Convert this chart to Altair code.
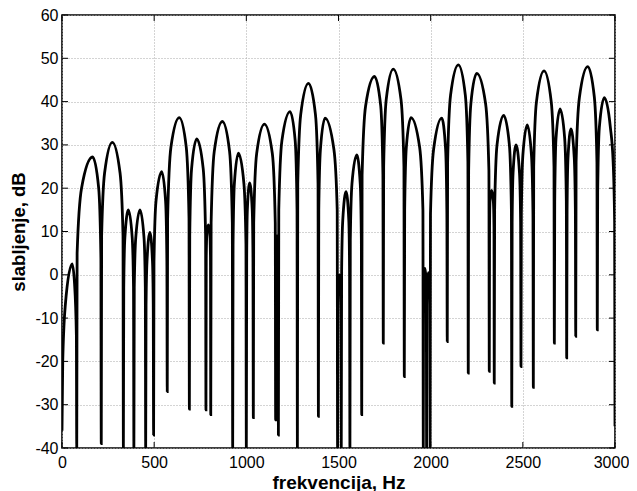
import altair as alt
import pandas as pd

# Attenuation curve (Hz, dB), lobe by lobe
freq_hz = [
    0, 4, 18, 55, 68, 78, 80,
    82, 106, 166, 199, 211, 213,
    215, 231, 273, 315, 331, 333,
    335, 341, 360, 381, 388, 390,
    392, 400, 423, 445, 452, 454,
    456, 461, 477, 491, 495, 497,
    499, 510, 541, 562, 569, 571,
    573, 591, 636, 674, 689, 691,
    693, 703, 731, 766, 779, 781,
    782.5, 786, 794, 802, 805.5, 807,
    809, 826, 870, 909, 924, 926,
    928, 935, 957, 987, 998, 1000,
    1002, 1005.5, 1018, 1032, 1036, 1038,
    1040, 1056, 1098, 1141, 1157, 1159,
    1160, 1162, 1166.5, 1171, 1173, 1174,
    1176, 1193, 1237, 1265, 1275, 1277,
    1279, 1295, 1337, 1375, 1389, 1391,
    1393, 1402, 1427, 1475, 1493, 1495,
    1496.5, 1499, 1505, 1511, 1513.5, 1515,
    1517, 1523, 1541, 1556, 1560, 1562,
    1564, 1573, 1599, 1618, 1624, 1626,
    1628, 1647, 1695, 1729, 1741, 1743,
    1745, 1759, 1797, 1839, 1855, 1857,
    1859, 1868, 1893, 1940, 1958, 1960,
    1961.5, 1964, 1969, 1974, 1976.5, 1978,
    1979.5, 1982, 1988, 1993, 1995.5, 1997,
    1999, 2016, 2060, 2081, 2088, 2090,
    2092, 2108, 2150, 2188, 2202, 2204,
    2206, 2218, 2250, 2298, 2316, 2318,
    2319.5, 2322, 2331, 2340, 2343.5, 2345,
    2347, 2360, 2396, 2427, 2438, 2440,
    2442, 2447, 2463, 2482, 2488, 2490,
    2492, 2500, 2524, 2547, 2555, 2557,
    2559, 2574, 2615, 2654, 2669, 2671,
    2673, 2680, 2702, 2727, 2736, 2738,
    2740, 2745, 2761, 2779, 2785, 2787,
    2789, 2807, 2852, 2888, 2902, 2904,
    2906, 2915, 2942, 2975, 2990, 2998, 3000,
]
level_db = [
    -36, -20, -7, 2.5, -2, -14, -40,
    5, 20, 27.2, 20, 4, -39,
    9, 23.5, 30.6, 23.5, 9, -40,
    -3, 8.5, 15, 8.5, -3, -40,
    -3, 8.5, 15, 8.5, -3, -40,
    -7, 3, 9.8, 3, -7, -37,
    3, 17, 23.8, 17, 3, -27,
    13, 29.5, 36.3, 29.5, 13, -31,
    9, 24.5, 31.4, 24.5, 9, -31.2,
    4, 9.5, 11.5, 9.5, 4, -32.3,
    12, 28.5, 35.4, 28.5, 12, -40,
    7, 21, 28.1, 21, 7, -40,
    4, 15, 21.2, 15, 4, -33,
    12, 28, 34.8, 28, 12, -33.5,
    2, 7, 9, 7, 2, -37,
    15, 31, 37.7, 31, 15, -40,
    21, 37, 44.2, 37, 21, -32.7,
    15, 29, 36.2, 29, 15, -40,
    -8, -2, 0, -2, -8, -40,
    1, 12.5, 19.2, 12.5, 1, -40,
    8, 21, 27.7, 21, 8, -32.3,
    23, 39, 45.8, 39, 23, -15.8,
    25, 40.5, 47.5, 40.5, 25, -23.5,
    15, 29.5, 36.3, 29.5, 15, -40,
    -6, -0.5, 1.5, -0.5, -6, -40,
    -7, -1.5, 0.5, -1.5, -7, -40,
    14, 29, 36.2, 29, 14, -15.4,
    26, 41.5, 48.5, 41.5, 26, -22.7,
    24, 39.5, 46.5, 39.5, 24, -22.3,
    11, 17, 19.5, 17, 11, -25,
    15, 30, 36.8, 30, 15, -30.4,
    12, 23.5, 30, 23.5, 12, -21.2,
    14, 27.5, 34.6, 27.5, 14, -26,
    25, 40, 47.1, 40, 25, -15.8,
    17, 31.5, 38.3, 31.5, 17, -19.2,
    15, 27, 33.7, 27, 15, -14.2,
    26, 41, 48.1, 41, 26, -12.7,
    19, 34, 40.9, 34, 26, 12, -35,
]

x_ticks = [0, 500, 1000, 1500, 2000, 2500, 3000]
y_ticks = [-40, -30, -20, -10, 0, 10, 20, 30, 40, 50, 60]

x_title = "frekvencija, Hz"
y_title = "slabljenje, dB"

W, H = 553, 433
FONT = "Liberation Sans"

curve = pd.DataFrame({"hz": freq_hz, "db": level_db})
xt = pd.DataFrame({"hz": x_ticks})
yt = pd.DataFrame({"db": y_ticks})

xscale = alt.Scale(domain=[0, 3000], nice=False, zero=False)
yscale = alt.Scale(domain=[-40, 60], nice=False, zero=False)

x_axis = alt.Axis(
    values=x_ticks, grid=True, gridDash=[1, 2], gridColor="#a8a8a8", gridWidth=1,
    ticks=False, tickSize=0, domain=False, labelFontSize=16, labelFont=FONT,
    labelColor="black", labelPadding=6, labelFlush=False,
    labelExpr="datum.value + ''",
    labelOffset={"condition": {"test": "datum.value == 3000", "value": -4}, "value": 0},
    title=x_title, titleFont=FONT, titleFontSize=19, titleFontWeight="bold",
    titleColor="black", titlePadding=3,
)
y_axis = alt.Axis(
    values=y_ticks, grid=True, gridDash=[1, 2], gridColor="#a8a8a8", gridWidth=1,
    ticks=False, tickSize=0, domain=False, labelFontSize=16, labelFont=FONT,
    labelColor="black", labelPadding=4, labelFlush=False,
    labelExpr="datum.value + ''",
    title=y_title, titleFont=FONT, titleFontSize=18.5, titleFontWeight="bold",
    titleColor="black", titlePadding=6,
)

line = alt.Chart(curve).mark_line(
    color="black", strokeWidth=2.8, interpolate="monotone", clip=True
).encode(
    x=alt.X("hz:Q", scale=xscale, axis=x_axis),
    y=alt.Y("db:Q", scale=yscale, axis=y_axis),
)

tick_len = 6
bottom_ticks = alt.Chart(xt).mark_rule(color="black", strokeWidth=1).encode(
    x=alt.X("hz:Q", scale=xscale, axis=x_axis),
    y=alt.value(H), y2=alt.value(H - tick_len),
)
top_ticks = alt.Chart(xt).mark_rule(color="black", strokeWidth=1).encode(
    x=alt.X("hz:Q", scale=xscale, axis=x_axis),
    y=alt.value(0), y2=alt.value(tick_len),
)
left_ticks = alt.Chart(yt).mark_rule(color="black", strokeWidth=1).encode(
    y=alt.Y("db:Q", scale=yscale, axis=y_axis),
    x=alt.value(0), x2=alt.value(tick_len),
)
right_ticks = alt.Chart(yt).mark_rule(color="black", strokeWidth=1).encode(
    y=alt.Y("db:Q", scale=yscale, axis=y_axis),
    x=alt.value(W), x2=alt.value(W - tick_len),
)

chart = alt.layer(line, bottom_ticks, top_ticks, left_ticks, right_ticks).properties(
    width=W, height=H,
    autosize=alt.AutoSizeParams(type="none"),
    padding={"left": 54, "top": 7, "right": 14, "bottom": 43},
    background="white",
).configure_view(stroke="black", strokeWidth=1.6)

chart.save("out.html", embed_options={"renderer": "svg", "actions": False})
